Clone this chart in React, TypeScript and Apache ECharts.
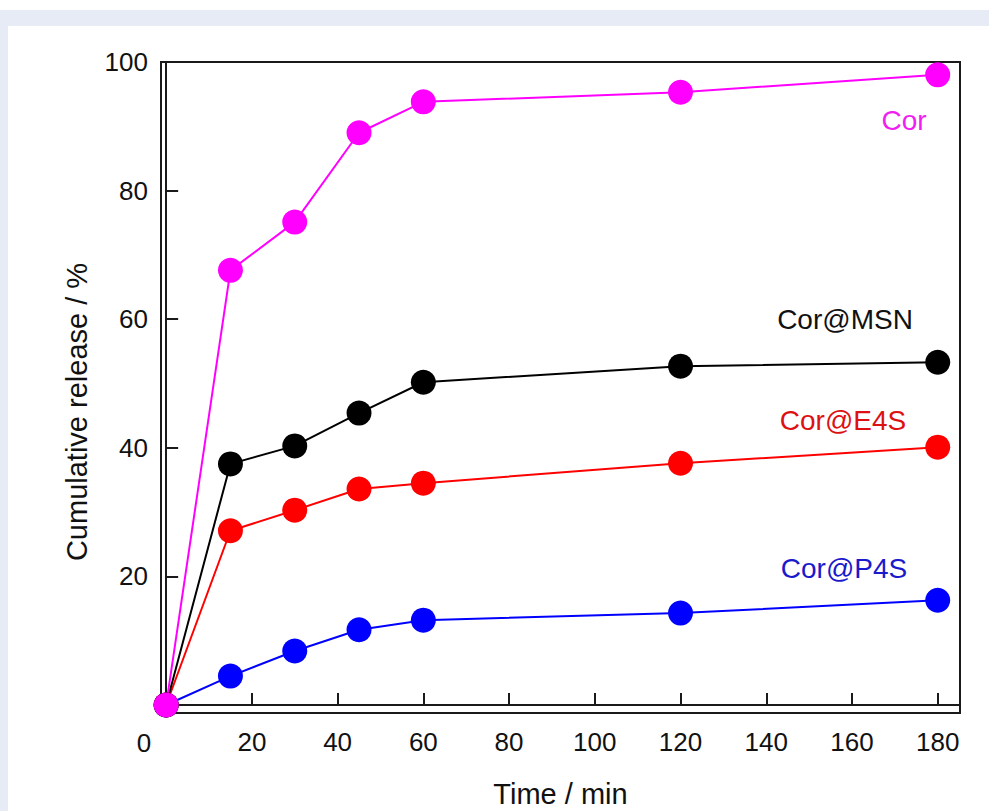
import React, { useEffect, useRef } from "react";
import * as echarts from "echarts";

const times = [0, 15, 30, 45, 60, 120, 180];
const corValues = [0, 67.6, 75.1, 89.0, 93.8, 95.3, 98.0];
const msnValues = [0, 37.5, 40.3, 45.4, 50.2, 52.7, 53.3];
const e4sValues = [0, 27.1, 30.3, 33.6, 34.5, 37.6, 40.1];
const p4sValues = [0, 4.5, 8.4, 11.7, 13.2, 14.3, 16.3];
const xTicks = [20, 40, 60, 80, 100, 120, 140, 160, 180];
const yTicks = [20, 40, 60, 80, 100];

const FONT = "'Liberation Sans', Arial, Helvetica, sans-serif";

function pairs(ys: number[]) {
  return times.map((t, i) => [t, ys[i]]);
}

export default function App() {
  const ref = useRef<HTMLDivElement>(null);
  useEffect(() => {
    if (!ref.current) return;
    const chart = echarts.init(ref.current, null, { renderer: "svg" });
    const mk = (name: string, ys: number[], color: string) => ({
      name,
      type: "line",
      data: pairs(ys),
      symbol: "circle",
      symbolSize: 25,
      itemStyle: { color },
      lineStyle: { color, width: 2 },
      emphasis: { disabled: true },
    });
    const lbl = (text: string, x: number, y: number, fill: string) => ({
      type: "text",
      x,
      y,
      style: { text, fontSize: 28, fill, fontFamily: FONT, textAlign: "center", textVerticalAlign: "middle" },
    });
    chart.setOption({
      animation: false,
      backgroundColor: "#ffffff",
      textStyle: { fontFamily: FONT },
      grid: {
        left: 161,
        right: 29,
        top: 62,
        bottom: 98,
        outerBoundsMode: "none",
        containLabel: false,
        show: true,
        borderColor: "#1a1a1a",
        borderWidth: 2,
        backgroundColor: "transparent",
      },
      xAxis: {
        type: "value",
        min: -1.2,
        max: 185.2,
        splitLine: { show: false },
        axisLine: { show: true, lineStyle: { color: "#1a1a1a", width: 2 } },
        axisTick: {
          show: true,
          inside: true,
          length: 12,
          customValues: xTicks,
          lineStyle: { color: "#1a1a1a", width: 2 },
        },
        axisLabel: {
          customValues: xTicks,
          fontSize: 26,
          color: "#111",
          margin: 16,
          fontFamily: FONT,
        },
        name: "Time / min",
        nameLocation: "middle",
        nameGap: 66,
        nameTextStyle: { fontSize: 29, color: "#111", fontFamily: FONT },
      },
      yAxis: {
        type: "value",
        min: -1.24,
        max: 100,
        splitLine: { show: false },
        axisLine: { show: true, lineStyle: { color: "#1a1a1a", width: 2 } },
        axisTick: {
          show: true,
          inside: true,
          length: 12,
          customValues: [20, 40, 60, 80],
          lineStyle: { color: "#1a1a1a", width: 2 },
        },
        axisLabel: {
          customValues: yTicks,
          fontSize: 26,
          color: "#111",
          margin: 13,
          fontFamily: FONT,
        },
      },
      graphic: [
        { type: "rect", shape: { x: 0, y: 10, width: 989, height: 16 }, style: { fill: "#e6ebf5" }, z: -10 },
        { type: "rect", shape: { x: 0, y: 10, width: 8, height: 801 }, style: { fill: "#e6ebf5" }, z: -10 },
        {
          type: "text",
          x: 144,
          y: 743,
          style: { text: "0", fontSize: 26, fill: "#111", fontFamily: FONT, textAlign: "center", textVerticalAlign: "middle" },
        },
        {
          type: "text",
          x: 77,
          y: 412,
          rotation: Math.PI / 2,
          style: {
            text: "Cumulative release / %",
            fontSize: 29,
            fill: "#111",
            fontFamily: FONT,
            textAlign: "center",
            textVerticalAlign: "middle",
          },
        },
        lbl("Cor", 904, 120, "#f01ef0"),
        lbl("Cor@MSN", 845, 319, "#111111"),
        lbl("Cor@E4S", 843, 420, "#dd1111"),
        lbl("Cor@P4S", 844, 568, "#1a1acc"),
      ],
      series: [
        mk("Cor@P4S", p4sValues, "#0000ff"),
        mk("Cor@E4S", e4sValues, "#ff0000"),
        mk("Cor@MSN", msnValues, "#000000"),
        mk("Cor", corValues, "#ff00ff"),
      ],
    });
    return () => chart.dispose();
  }, []);
  return (
    <div
      ref={ref}
      style={{ position: "absolute", left: 0, top: 0, width: 989, height: 811, background: "#fff" }}
    />
  );
}
